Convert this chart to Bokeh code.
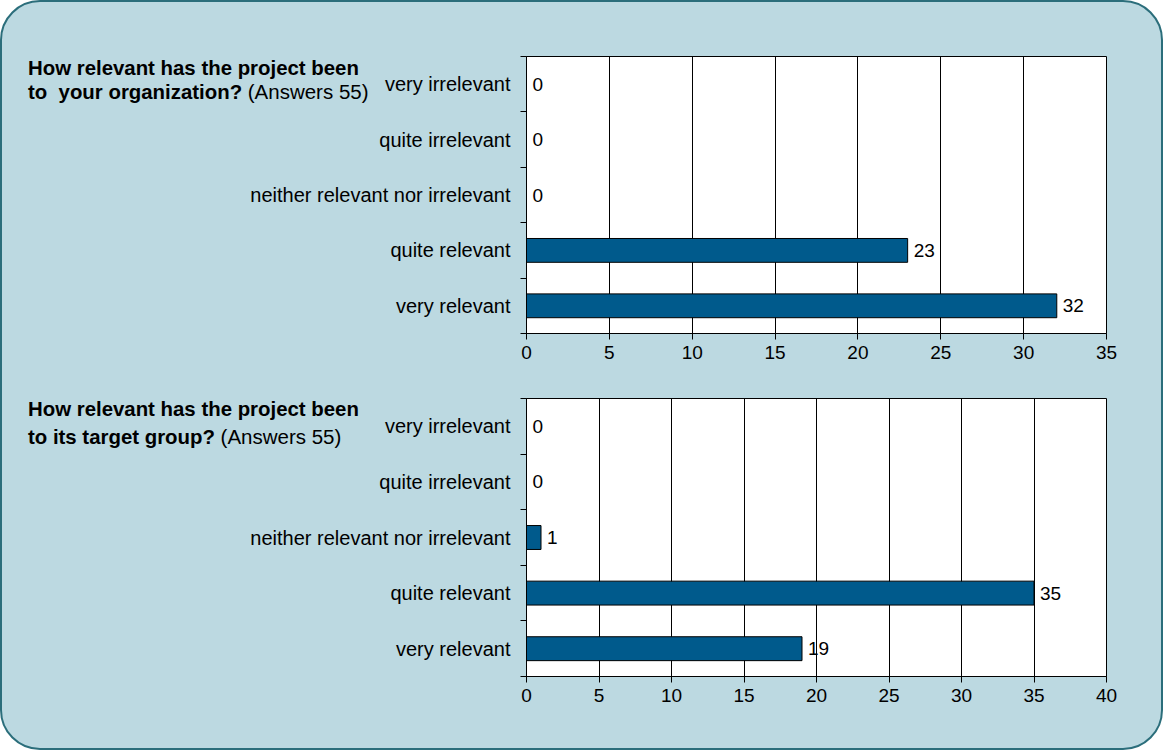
from bokeh.plotting import figure
from bokeh.models import Range1d, FixedTicker, ColumnDataSource, Div
from bokeh.layouts import column
from bokeh.core.properties import value
from bokeh.embed import file_html
from bokeh.resources import INLINE

categories = ["very irrelevant", "quite irrelevant", "neither relevant nor irrelevant",
              "quite relevant", "very relevant"]
org_counts = [0, 0, 0, 23, 32]
target_counts = [0, 0, 1, 35, 19]
org_ticks = [0, 5, 10, 15, 20, 25, 30, 35]
target_ticks = [0, 5, 10, 15, 20, 25, 30, 35, 40]
title_line1 = "How relevant has the project been"
org_line2 = "to&nbsp; your organization?"
target_line2 = "to its target group?"
answers_note = "(Answers 55)"

FONT = "Liberation Sans"
BG = "#bcd9e1"
BAR = "#005a8c"
EDGE = "#2b6e7b"


def make_chart(counts, ticks, height, top, frame_h, right):
    n = len(categories)
    ypos = [i + 0.5 for i in range(n)]
    src = ColumnDataSource(dict(y=ypos, v=counts, t=[str(c) for c in counts]))
    p = figure(width=1159, height=height, x_range=Range1d(ticks[0], ticks[-1]),
               y_range=Range1d(n, 0), output_backend="svg", toolbar_location=None,
               min_border_left=524, min_border_right=right, min_border_top=top,
               min_border_bottom=height - top - frame_h)
    p.background_fill_color = "white"
    p.border_fill_alpha = 0
    p.outline_line_color = "black"
    p.outline_line_width = 1
    p.hbar(y="y", left=0, right="v", height=0.43, source=src,
           fill_color=BAR, line_color="black", line_width=1)
    p.text(x="v", y="y", text="t", source=src, x_offset=6, text_baseline="middle",
           text_font=value(FONT), text_font_size="19px", text_color="black")

    p.xaxis.ticker = FixedTicker(ticks=ticks)
    p.xaxis.major_tick_out = 6
    p.xaxis.major_tick_in = 0
    p.xaxis.minor_tick_out = 0
    p.xaxis.axis_line_color = "black"
    p.xaxis.major_tick_line_color = "black"
    p.xaxis.major_label_text_font = FONT
    p.xaxis.major_label_text_font_size = "19px"
    p.xaxis.major_label_text_color = "black"
    p.xaxis.major_label_standoff = 6

    p.yaxis.ticker = FixedTicker(ticks=ypos, minor_ticks=list(range(n + 1)))
    p.yaxis.major_label_overrides = {y: c for y, c in zip(ypos, categories)}
    p.yaxis.major_tick_out = 0
    p.yaxis.major_tick_in = 0
    p.yaxis.minor_tick_out = 6
    p.yaxis.minor_tick_in = 0
    p.yaxis.minor_tick_line_color = "black"
    p.yaxis.axis_line_color = "black"
    p.yaxis.major_label_text_font = FONT
    p.yaxis.major_label_text_font_size = "20px"
    p.yaxis.major_label_text_color = "black"
    p.yaxis.major_label_standoff = 10

    p.xgrid.ticker = FixedTicker(ticks=ticks)
    p.xgrid.grid_line_color = "black"
    p.xgrid.grid_line_width = 1
    p.ygrid.grid_line_color = None
    return p


def make_title(line2, left, top, line_h):
    html = (f"<b>{title_line1}<br>{line2}</b> "
            f"<span style='font-size:20.5px'>{answers_note}</span>")
    return Div(text=html, width=420, height=2 * line_h,
               styles={"position": "absolute", "left": f"{left}px", "top": f"{top}px",
                       "font-family": FONT, "font-size": "20.4px",
                       "line-height": f"{line_h}px", "color": "black",
                       "white-space": "nowrap", "margin": "0"})


p1 = make_chart(org_counts, org_ticks, 370, 54, 277, 54)
p2 = make_chart(target_counts, target_ticks, 376, 26, 278, 55)
t1 = make_title(org_line2, 26, 54, 24)
t2 = make_title(target_line2, 26, 394, 27)

layout = column(p1, p2, t1, t2, spacing=0,
                styles={"background-color": BG, "border": f"2px solid {EDGE}",
                        "border-radius": "40px", "position": "relative"})

open("out.html", "w").write(file_html(layout, INLINE))
